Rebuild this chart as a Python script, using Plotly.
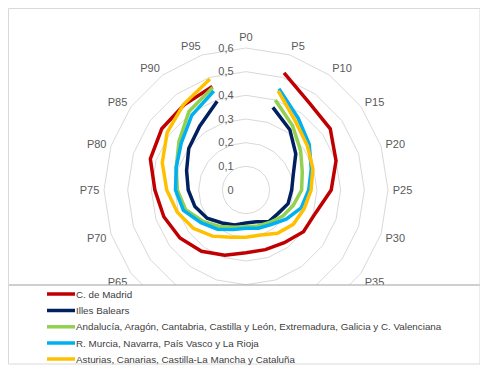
import plotly.graph_objects as go

categories = ["P0", "P5", "P10", "P15", "P20", "P25", "P30", "P35", "P40", "P45",
              "P50", "P55", "P60", "P65", "P70", "P75", "P80", "P85", "P90", "P95"]
# category labels covered by the legend box in the reference
hidden_labels = ["P40", "P45", "P50", "P55", "P60"]

series_names = [
    "C. de Madrid",
    "Illes Balears",
    "Andalucía, Aragón, Cantabria, Castilla y León, Extremadura, Galicia y C. Valenciana",
    "R. Murcia, Navarra, País Vasco y La Rioja",
    "Asturias, Canarias, Castilla-La Mancha y Cataluña",
]

madrid = [None, 0.52, 0.455, 0.44, 0.40, 0.36, 0.31, 0.30, 0.275, 0.265,
          0.265, 0.29, 0.32, 0.345, 0.365, 0.385, 0.425, 0.44, 0.445, 0.46]
baleares = [None, 0.367, 0.315, 0.26, 0.21, 0.193, 0.187, 0.168, 0.165, 0.141,
            0.139, 0.155, 0.172, 0.203, 0.227, 0.244, 0.264, 0.299, 0.333, 0.394]
andalucia = [None, 0.40, 0.335, 0.285, 0.25, 0.235, 0.21, 0.19, 0.17, 0.16,
             0.155, 0.165, 0.19, 0.225, 0.268, 0.29, 0.31, 0.35, 0.41, 0.455]
murcia = [None, 0.45, 0.375, 0.33, 0.29, 0.265, 0.245, 0.21, 0.18, 0.17,
          0.162, 0.175, 0.205, 0.235, 0.278, 0.298, 0.31, 0.338, 0.39, 0.44]
asturias = [None, 0.44, 0.357, 0.32, 0.297, 0.275, 0.258, 0.247, 0.226, 0.20,
            0.20, 0.21, 0.241, 0.275, 0.305, 0.335, 0.372, 0.412, 0.448, 0.493]

colors = ["#C00000", "#002060", "#92D050", "#00B0F0", "#FFC000"]
all_values = [madrid, baleares, andalucia, murcia, asturias]

# The page body has an 8px margin; work in page pixels and convert.
OFF = 8
W, H = 480, 365
def px(x):
    return (x - OFF) / W
def py(y):
    return 1 - (y - OFF) / H

fig = go.Figure()
for name, vals, col in zip(series_names, all_values, colors):
    fig.add_trace(go.Scatterpolar(
        r=vals, theta=categories, mode="lines", name=name,
        line=dict(color=col, width=3.5), connectgaps=False,
    ))

cx, cy, R = 246, 190, 142
lab_font = dict(family="Liberation Sans, Arial, sans-serif", size=11, color="#595959")
leg_font = dict(family="Liberation Sans, Arial, sans-serif", size=9.8, color="#404040")

shapes = [
    dict(type="rect", xref="paper", yref="paper", x0=px(5), x1=px(480), y0=py(364), y1=py(285),
         fillcolor="white", line=dict(width=0), layer="above"),
    dict(type="line", xref="paper", yref="paper", x0=px(5), x1=px(480), y0=py(285), y1=py(285),
         line=dict(color="#a0a0a0", width=1.2), layer="above"),
    dict(type="rect", xref="paper", yref="paper", x0=px(8.5), x1=px(480), y0=py(364), y1=py(8.5),
         line=dict(color="#d9d9d9", width=1), layer="above"),
]
annotations = []
row_y = [294, 310.5, 326.8, 343, 359]
for name, col, yy in zip(series_names, colors, row_y):
    shapes.append(dict(type="line", xref="paper", yref="paper", x0=px(47), x1=px(75),
                       y0=py(yy), y1=py(yy), line=dict(color=col, width=3.5), layer="above"))
    annotations.append(dict(xref="paper", yref="paper", x=px(74), y=py(yy), text=name,
                            showarrow=False, xanchor="left", yanchor="middle", font=leg_font))

fig.update_layout(
    width=W, height=H,
    margin=dict(l=0, r=0, t=0, b=0),
    paper_bgcolor="white",
    separators=", ",
    showlegend=False,
    polar=dict(
        domain=dict(x=[px(cx - R), px(cx + R)], y=[py(cy + R), py(cy - R)]),
        bgcolor="white",
        gridshape="linear",
        radialaxis=dict(
            range=[0, 0.6], dtick=0.1, tick0=0, angle=90, side="counterclockwise",
            showline=False, gridcolor="#d9d9d9", gridwidth=1,
            ticks="outside", ticklen=8, tickcolor="rgba(0,0,0,0)",
            tickfont=lab_font, tickangle=90,
        ),
        angularaxis=dict(
            direction="clockwise", rotation=90, showgrid=False,
            showline=True, linecolor="#d9d9d9", linewidth=1,
            ticks="outside", ticklen=2, tickcolor="rgba(0,0,0,0)",
            tickmode="array", tickvals=categories,
            ticktext=["" if c in hidden_labels else c for c in categories],
            tickfont=lab_font,
        ),
    ),
    shapes=shapes,
    annotations=annotations,
)

fig.write_html("out.html")
